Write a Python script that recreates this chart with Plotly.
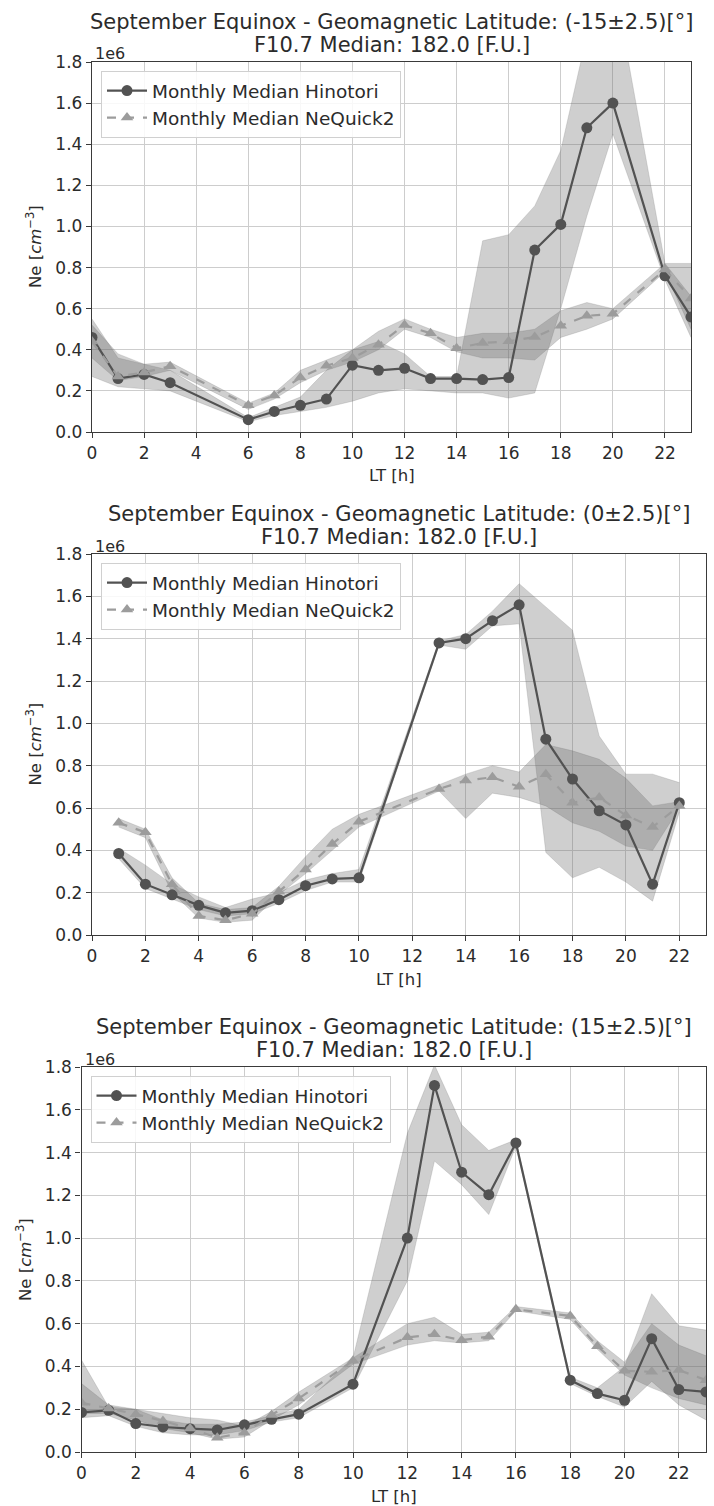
import plotly.graph_objects as go

W, H = 714, 1506

# ---------------- data (Ne in units of 1e6 cm^-3) ----------------
titles_lat = ["(-15±2.5)[°]", "(0±2.5)[°]", "(15±2.5)[°]"]

hours_p1 = [0, 1, 2, 3, 6, 7, 8, 9, 10, 11, 12, 13, 14, 15, 16, 17, 18, 19, 20, 22, 23]
hino_p1 = [0.46, 0.26, 0.28, 0.24, 0.06, 0.10, 0.13, 0.16, 0.325, 0.30, 0.31, 0.26, 0.26, 0.255, 0.265, 0.885, 1.01, 1.48, 1.60, 0.76, 0.56]
hino_lo_p1 = [0.27, 0.22, 0.21, 0.20, 0.05, 0.08, 0.10, 0.12, 0.15, 0.19, 0.21, 0.20, 0.19, 0.19, 0.165, 0.19, 0.60, 1.05, 1.45, 0.74, 0.46]
hino_hi_p1 = [0.55, 0.36, 0.33, 0.30, 0.07, 0.12, 0.17, 0.30, 0.40, 0.44, 0.38, 0.27, 0.27, 0.93, 0.96, 1.10, 1.37, 1.93, 2.22, 0.82, 0.66]
neq_p1 = [0.44, 0.27, 0.29, 0.32, 0.13, 0.178, 0.265, 0.322, 0.36, 0.425, 0.52, 0.48, 0.408, 0.433, 0.441, 0.462, 0.517, 0.565, 0.575, 0.79, 0.65]
neq_lo_p1 = [0.36, 0.25, 0.27, 0.30, 0.11, 0.16, 0.24, 0.30, 0.34, 0.40, 0.50, 0.46, 0.39, 0.36, 0.36, 0.35, 0.46, 0.50, 0.55, 0.78, 0.50]
neq_hi_p1 = [0.52, 0.38, 0.33, 0.34, 0.14, 0.19, 0.30, 0.35, 0.40, 0.49, 0.55, 0.50, 0.46, 0.48, 0.48, 0.50, 0.59, 0.63, 0.60, 0.82, 0.82]

hours_p2 = [1, 2, 3, 4, 5, 6, 7, 8, 9, 10, 13, 14, 15, 16, 17, 18, 19, 20, 21, 22]
hino_p2 = [0.385, 0.24, 0.19, 0.14, 0.105, 0.115, 0.167, 0.233, 0.265, 0.27, 1.38, 1.40, 1.485, 1.56, 0.925, 0.737, 0.587, 0.52, 0.24, 0.625]
hino_lo_p2 = [0.36, 0.22, 0.17, 0.12, 0.09, 0.10, 0.15, 0.21, 0.25, 0.25, 1.37, 1.35, 1.46, 1.47, 0.39, 0.27, 0.32, 0.25, 0.16, 0.58]
hino_hi_p2 = [0.41, 0.33, 0.24, 0.18, 0.13, 0.17, 0.20, 0.26, 0.29, 0.31, 1.39, 1.42, 1.53, 1.66, 1.55, 1.44, 0.94, 0.76, 0.76, 0.72]
neq_p2 = [0.53, 0.485, 0.24, 0.09, 0.07, 0.10, 0.205, 0.31, 0.43, 0.535, 0.69, 0.73, 0.745, 0.70, 0.76, 0.625, 0.65, 0.565, 0.51, 0.61]
neq_lo_p2 = [0.51, 0.46, 0.20, 0.08, 0.06, 0.07, 0.19, 0.29, 0.40, 0.51, 0.68, 0.55, 0.67, 0.65, 0.61, 0.53, 0.49, 0.42, 0.40, 0.60]
neq_hi_p2 = [0.55, 0.50, 0.27, 0.15, 0.12, 0.13, 0.23, 0.37, 0.50, 0.57, 0.71, 0.76, 0.80, 0.77, 0.90, 0.87, 0.83, 0.74, 0.61, 0.63]

hours_p3 = [0, 1, 2, 3, 4, 5, 6, 7, 8, 10, 12, 13, 14, 15, 16, 18, 19, 20, 21, 22, 23]
hino_p3 = [0.185, 0.195, 0.133, 0.117, 0.109, 0.103, 0.127, 0.153, 0.177, 0.317, 1.0, 1.714, 1.308, 1.203, 1.445, 0.336, 0.273, 0.242, 0.53, 0.292, 0.281]
hino_lo_p3 = [0.16, 0.17, 0.12, 0.09, 0.08, 0.08, 0.10, 0.14, 0.16, 0.30, 0.80, 1.36, 1.25, 1.11, 1.43, 0.32, 0.26, 0.21, 0.33, 0.22, 0.15]
hino_hi_p3 = [0.43, 0.21, 0.20, 0.15, 0.13, 0.13, 0.14, 0.17, 0.20, 0.44, 1.49, 1.81, 1.53, 1.41, 1.46, 0.35, 0.30, 0.40, 0.74, 0.59, 0.57]
neq_p3 = [0.23, 0.203, 0.177, 0.145, 0.11, 0.067, 0.09, 0.173, 0.25, 0.427, 0.536, 0.55, 0.523, 0.539, 0.667, 0.636, 0.495, 0.38, 0.375, 0.383, 0.336]
neq_lo_p3 = [0.18, 0.18, 0.15, 0.11, 0.09, 0.06, 0.07, 0.15, 0.22, 0.41, 0.50, 0.52, 0.51, 0.52, 0.66, 0.62, 0.48, 0.36, 0.30, 0.25, 0.22]
neq_hi_p3 = [0.32, 0.22, 0.20, 0.18, 0.16, 0.15, 0.12, 0.19, 0.28, 0.44, 0.60, 0.63, 0.55, 0.56, 0.68, 0.65, 0.52, 0.42, 0.60, 0.50, 0.45]

x_ticks = list(range(0, 24, 2))
y_ticks = [0.0, 0.2, 0.4, 0.6, 0.8, 1.0, 1.2, 1.4, 1.6, 1.8]

# ---------------- layout geometry (pixels) ----------------
geo = [
    dict(l=92, r=691, t=62, b=432),
    dict(l=92, r=706, t=554, b=935),
    dict(l=81.5, r=706, t=1067, b=1452),
]

FONT = "DejaVu Sans"
TXT = "#2b2b2b"
C_HINO = "#525252"
C_NEQ = "#9c9c9c"
FILL = "rgba(105,105,105,0.32)"


def xp(px):
    return px / W


def yp(py):
    return 1 - py / H


data_sets = [
    (hours_p1, hino_p1, hino_lo_p1, hino_hi_p1, neq_p1, neq_lo_p1, neq_hi_p1),
    (hours_p2, hino_p2, hino_lo_p2, hino_hi_p2, neq_p2, neq_lo_p2, neq_hi_p2),
    (hours_p3, hino_p3, hino_lo_p3, hino_hi_p3, neq_p3, neq_lo_p3, neq_hi_p3),
]

fig = go.Figure()
annotations = []
layout_upd = {}

for i, (g, ds) in enumerate(zip(geo, data_sets)):
    n = i + 1
    sfx = "" if n == 1 else str(n)
    xa, ya = "x" + sfx, "y" + sfx
    leg = "legend" + sfx
    hrs, h, hlo, hhi, q, qlo, qhi = ds

    # bands
    for lo, hi in ((hlo, hhi), (qlo, qhi)):
        fig.add_trace(go.Scatter(x=hrs, y=lo, mode="lines", line=dict(width=0.6, color=FILL),
                                 showlegend=False, hoverinfo="skip", xaxis=xa, yaxis=ya))
        fig.add_trace(go.Scatter(x=hrs, y=hi, mode="lines", line=dict(width=0.6, color=FILL),
                                 fill="tonexty", fillcolor=FILL,
                                 showlegend=False, hoverinfo="skip", xaxis=xa, yaxis=ya))
    # lines
    fig.add_trace(go.Scatter(x=hrs, y=h, mode="lines+markers", name="Monthly Median Hinotori",
                             line=dict(color=C_HINO, width=2.2),
                             marker=dict(symbol="circle", size=11, color=C_HINO),
                             xaxis=xa, yaxis=ya, legend=leg))
    fig.add_trace(go.Scatter(x=hrs, y=q, mode="lines+markers", name="Monthly Median NeQuick2",
                             line=dict(color=C_NEQ, width=2.2, dash="dash"),
                             marker=dict(symbol="triangle-up", size=11, color=C_NEQ),
                             xaxis=xa, yaxis=ya, legend=leg))

    axis_common = dict(showline=True, mirror=True, linecolor="#3a3a3a", linewidth=1.4,
                       showgrid=True, gridcolor="#cdcdcd", gridwidth=1,
                       ticks="outside", ticklen=5, tickwidth=1.2, tickcolor="#3a3a3a",
                       tickfont=dict(family=FONT, size=17, color=TXT), zeroline=False,
                       automargin=False)
    layout_upd["xaxis" + sfx] = dict(axis_common, domain=[xp(g["l"]), xp(g["r"])], range=[0, 23],
                                     tickvals=x_ticks, anchor=ya)
    layout_upd["yaxis" + sfx] = dict(axis_common, domain=[yp(g["b"]), yp(g["t"])], range=[0, 1.8],
                                     tickvals=y_ticks, tickformat=".1f", anchor=xa)
    layout_upd[leg] = dict(x=xp(g["l"] + 9), y=yp(g["t"] + 9), xanchor="left", yanchor="top",
                           bgcolor="rgba(255,255,255,0.85)", bordercolor="#d0d0d0", borderwidth=1,
                           font=dict(family=FONT, size=18.5, color=TXT), itemwidth=40,
                           traceorder="normal", tracegroupgap=0)

    cx = (g["l"] + g["r"]) / 2
    annotations += [
        dict(text="September Equinox - Geomagnetic Latitude: " + titles_lat[i], x=xp(cx), y=yp(g["t"] - 40),
             xref="paper", yref="paper", showarrow=False, xanchor="center", yanchor="middle",
             font=dict(family=FONT, size=21, color=TXT)),
        dict(text="F10.7 Median: 182.0 [F.U.]", x=xp(cx), y=yp(g["t"] - 17),
             xref="paper", yref="paper", showarrow=False, xanchor="center", yanchor="middle",
             font=dict(family=FONT, size=21, color=TXT)),
        dict(text="1e6", x=xp(g["l"] + 1), y=yp(g["t"] - 8), xref="paper", yref="paper",
             showarrow=False, xanchor="left", yanchor="middle",
             font=dict(family=FONT, size=16, color=TXT)),
        dict(text="LT [h]", x=xp(cx), y=yp(g["b"] + 44), xref="paper", yref="paper",
             showarrow=False, xanchor="center", yanchor="middle",
             font=dict(family=FONT, size=16.5, color=TXT)),
        dict(text="Ne [<i>cm</i><sup>−3</sup>]", x=xp(g["l"] - 58), y=yp((g["t"] + g["b"]) / 2),
             xref="paper", yref="paper", showarrow=False, xanchor="center", yanchor="middle",
             textangle=-90, font=dict(family=FONT, size=16.5, color=TXT)),
    ]

fig.update_layout(
    width=W, height=H,
    margin=dict(l=0, r=0, t=0, b=0),
    paper_bgcolor="white", plot_bgcolor="white",
    annotations=annotations,
    **layout_upd,
)

fig.write_html("out.html")
